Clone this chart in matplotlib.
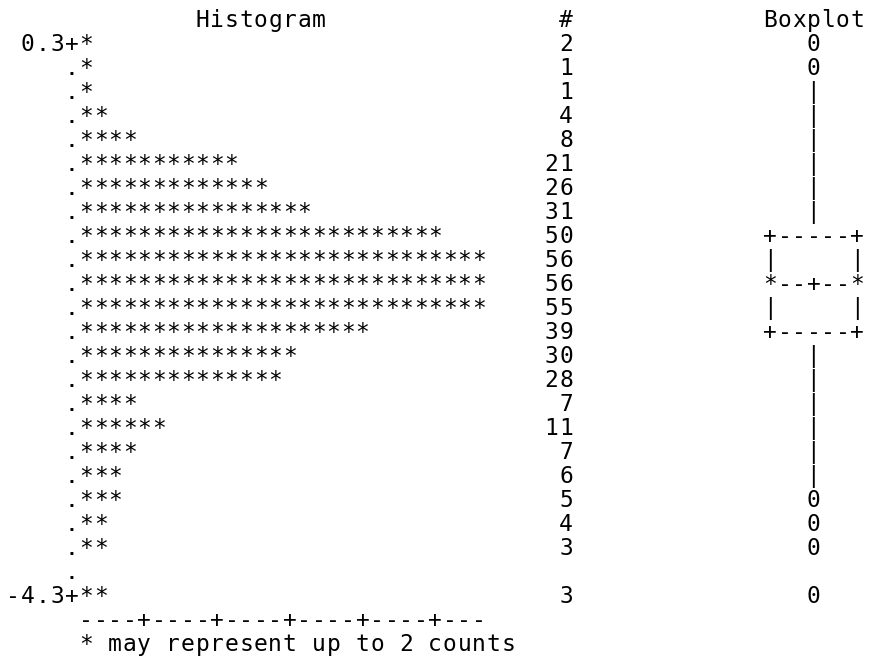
import math
import matplotlib
matplotlib.use('Agg')
import matplotlib.pyplot as plt

# SAS style line-printer histogram + boxplot, drawn on a character grid

bin_mid = [0.3, 0.1, -0.1, -0.3, -0.5, -0.7, -0.9, -1.1, -1.3, -1.5, -1.7, -1.9,
           -2.1, -2.3, -2.5, -2.7, -2.9, -3.1, -3.3, -3.5, -3.7, -3.9, -4.1, -4.3]
counts = [2, 1, 1, 4, 8, 21, 26, 31, 50, 56, 56, 55,
          39, 30, 28, 7, 11, 7, 6, 5, 4, 3, 0, 3]
labelled_bins = [0.3, -4.3]
per_star = 2

# boxplot summary (by bin)
q3, median, q1 = -1.3, -1.7, -2.1
whisker_hi, whisker_lo = -0.1, -3.3
outliers = [0.3, 0.1, -3.5, -3.7, -3.9, -4.3]

fig = plt.figure(figsize=(8.75, 6.6), dpi=100)
ax = fig.add_axes([0, 0, 1, 1])
# x = character column, y = text line
ax.set_xlim(-86 / 14.55, (875 - 86) / 14.55)
ax.set_ylim((660 - 43) / 24, -43 / 24)
ax.axis('off')

base = 0.35
fs = 16.5


def put(col, row, s):
    for k, ch in enumerate(s):
        if ch != ' ':
            ax.text(col + k, row + base, ch, ha='center', va='baseline',
                    fontsize=fs, family='DejaVu Sans Mono', color='black')


# header
put(8, -1, 'Histogram')
put(33, -1, '#')
put(47, -1, 'Boxplot')

for r, (b, n) in enumerate(zip(bin_mid, counts)):
    # axis + label
    if b in labelled_bins:
        lbl = '%.1f' % b
        put(-1 - len(lbl), r, lbl)
        put(-1, r, '+')
    else:
        put(-1, r, '.')
    # bar of stars
    put(0, r, '*' * math.ceil(n / per_star))
    # count
    if n > 0:
        s = str(n)
        put(34 - len(s), r, s)
    # boxplot
    bb = round(b, 1)
    if bb in outliers:
        put(50, r, '0')
    elif bb == q3 or bb == q1:
        put(47, r, '+-----+')
    elif bb == median:
        put(47, r, '*--+--*')
    elif q1 < bb < q3:
        put(47, r, '|     |')
    elif whisker_lo <= bb <= whisker_hi:
        put(50, r, '|')

# bottom axis
nmax = max(math.ceil(n / per_star) for n in counts)
axis_str = ''.join('+' if (i + 1) % 5 == 0 else '-' for i in range(nmax))
put(0, len(bin_mid), axis_str)
put(0, len(bin_mid) + 1, '* may represent up to %d counts' % per_star)

fig.savefig('out.png', dpi=100, facecolor='white')
